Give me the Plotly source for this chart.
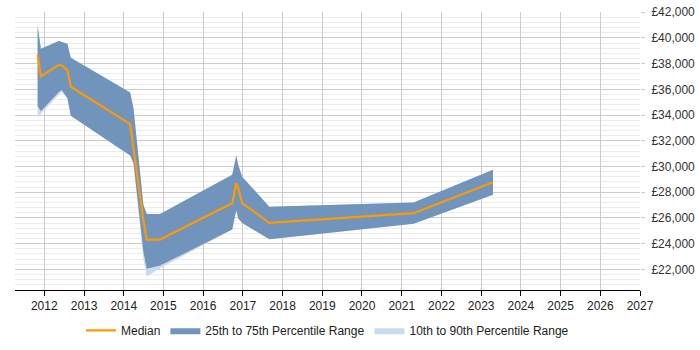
import plotly.graph_objects as go

dates = ["2011-11-01", "2011-12-01", "2012-05-15", "2012-06-10", "2012-08-01", "2012-09-01",
         "2014-03-01", "2014-04-01", "2014-07-01", "2014-08-01", "2014-12-01",
         "2016-09-25", "2016-11-01", "2016-11-20", "2016-12-25", "2017-09-01",
         "2021-04-20", "2023-04-20"]
median = [38700, 37000, 37900, 37850, 37500, 36200,
          33300, 31300, 25800, 24320, 24320,
          27150, 28700, 28300, 27150, 25620,
          26370, 28770]
p75 = [40950, 39150, 39750, 39700, 39550, 38450,
       35750, 34500, 27000, 26300, 26300,
       29350, 30850, 30100, 29200, 26870,
       27200, 29750]
p25 = [34700, 34300, 35800, 35950, 35300, 33950,
       30850, 30300, 23400, 22050, 22300,
       25100, 26600, 25950, 25600, 24350,
       25550, 27800]
p90 = [40950, 39150, 39750, 39700, 39550, 38450,
       35750, 34500, 27000, 26300, 26300,
       29350, 30850, 30100, 29200, 26870,
       27200, 29750]
p10 = [33800, 34000, 35600, 35800, 35300, 33950,
       30850, 30100, 22800, 21450, 22100,
       25100, 26600, 25950, 25600, 24350,
       25550, 27800]

fig = go.Figure()
fig.add_trace(go.Scatter(
    x=dates + dates[::-1], y=p90 + p10[::-1], fill="toself",
    fillcolor="#c9dbef", line=dict(width=0), mode="lines",
    name="10th to 90th Percentile Range", legendrank=3, hoverinfo="skip"))
fig.add_trace(go.Scatter(
    x=dates + dates[::-1], y=p75 + p25[::-1], fill="toself",
    fillcolor="rgb(113,148,189)", line=dict(width=0), mode="lines",
    name="25th to 75th Percentile Range", legendrank=2, hoverinfo="skip"))
fig.add_trace(go.Scatter(
    x=dates, y=median, mode="lines", line=dict(color="#ff9900", width=2.2),
    name="Median", legendrank=1))

fig.update_layout(
    width=700, height=350,
    margin=dict(l=15, r=59, t=5, b=57),
    paper_bgcolor="white", plot_bgcolor="white",
    font=dict(family="Liberation Sans, Arial, sans-serif", size=12, color="#222"),
    showlegend=True,
    legend=dict(orientation="h", x=0.5, xanchor="center", y=-0.145, yanchor="middle",
                font=dict(size=12, color="#222"), itemwidth=30, tracegroupgap=0),
    xaxis=dict(type="date", range=["2011-04-07", "2027-01-01"],
               dtick="M12", tick0="2012-01-01", tickformat="%Y",
               showgrid=True, gridcolor="#cccccc", gridwidth=1,
               showline=True, linecolor="#000", linewidth=1,
               ticks="outside", ticklen=5, tickcolor="#000",
               zeroline=False, fixedrange=True),
    yaxis=dict(side="right", range=[20400, 42010],
               tick0=0, dtick=2000, tickprefix="£", tickformat=",d",
               showgrid=True, gridcolor="#cccccc", gridwidth=1,
               minor=dict(dtick=400, tick0=0, showgrid=True, gridcolor="#ececec", gridwidth=1),
               ticks="outside", ticklen=4, tickcolor="#cccccc", ticklabelstandoff=4,
               ticklabeloverflow="allow",
               tickfont=dict(color="#333"),
               showline=False, zeroline=False, fixedrange=True),
)

fig.write_html("out.html")
